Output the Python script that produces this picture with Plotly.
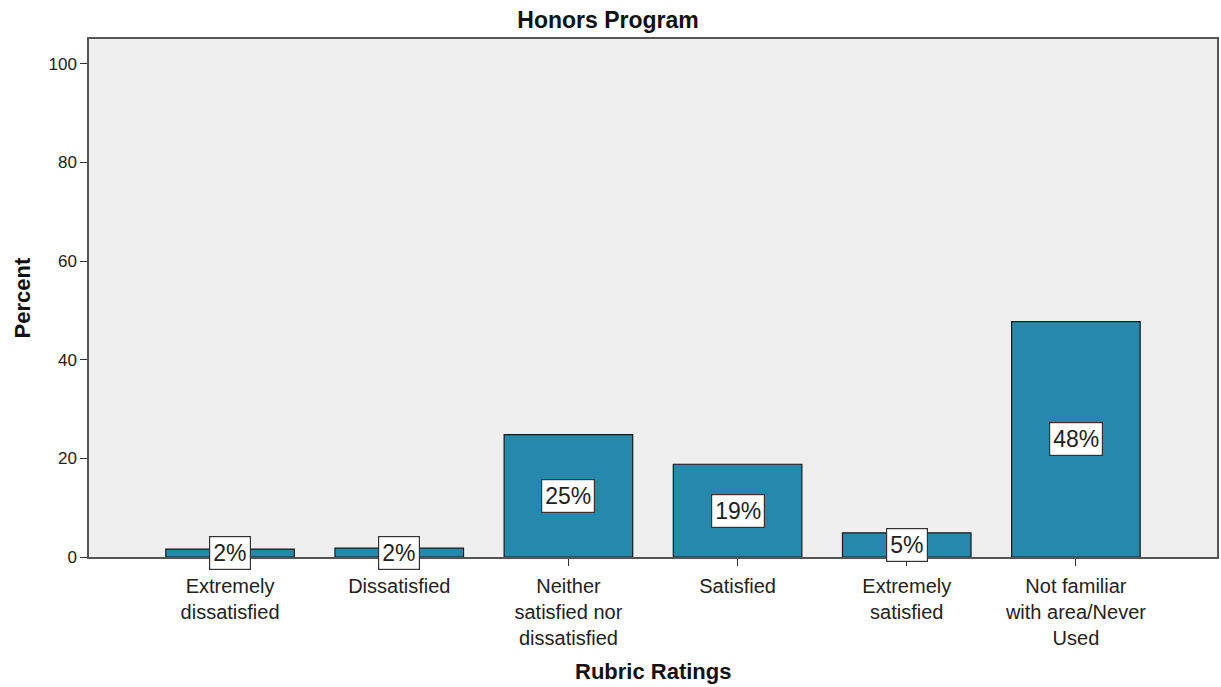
import plotly.graph_objects as go

categories = ["Extremely<br>dissatisfied", "Dissatisfied", "Neither<br>satisfied nor<br>dissatisfied",
              "Satisfied", "Extremely<br>satisfied", "Not familiar<br>with area/Never<br>Used"]
values = [1.6, 1.8, 24.8, 18.8, 4.9, 47.7]
labels = ["2%", "2%", "25%", "19%", "5%", "48%"]
y_ticks = [0, 20, 40, 60, 80, 100]

FONT = "Liberation Sans, Arial"

fig = go.Figure()
fig.add_trace(go.Bar(
    x=list(range(len(categories))), y=values, width=0.76,
    marker=dict(color="#2489AB", line=dict(color="#1a1a1a", width=1.2)),
    hoverinfo="skip",
))
for i, (v, lab) in enumerate(zip(values, labels)):
    fig.add_annotation(x=i, y=v / 2, text=lab, showarrow=False,
                       font=dict(family=FONT, size=23, color="#222"),
                       bgcolor="white", bordercolor="#333", borderwidth=1.2, borderpad=3)

fig.add_annotation(text="<b>Percent</b>", xref="paper", yref="paper", x=-0.059, y=0.5,
                   xanchor="center", yanchor="middle", textangle=-90, showarrow=False,
                   font=dict(family=FONT, size=22, color="#111"))
fig.add_annotation(text="<b>Rubric Ratings</b>", xref="paper", yref="paper", x=0.5, y=-0.222,
                   xanchor="center", yanchor="middle", showarrow=False,
                   font=dict(family=FONT, size=22, color="#111"))

fig.update_layout(
    width=1221, height=687,
    margin=dict(l=89, r=4, t=39, b=130, autoexpand=False),
    paper_bgcolor="white", plot_bgcolor="#EFEFEF",
    title=dict(text="<b>Honors Program</b>", x=0.498, xanchor="center", y=0.971, yanchor="middle",
               font=dict(family=FONT, size=23, color="#111")),
    showlegend=False,
)
fig.update_xaxes(
    range=[-0.834, 5.834], tickvals=list(range(len(categories))), ticktext=categories,
    ticks="outside", ticklen=7, tickcolor="#333", automargin=False, ticklabelstandoff=3,
    showline=True, linecolor="#555", linewidth=1.5, mirror=True, showgrid=False,
    tickfont=dict(family=FONT, size=20, color="#222"),
)
fig.update_yaxes(
    range=[0, 105], tickvals=y_ticks, ticks="outside", ticklen=7, tickcolor="#333", automargin=False,
    showline=True, linecolor="#555", linewidth=1.5, mirror=True, showgrid=False, zeroline=False,
    tickfont=dict(family=FONT, size=17, color="#222"),
)
fig.write_html("out.html", config={"displayModeBar": False},
               post_script="document.body.style.margin='0';")
